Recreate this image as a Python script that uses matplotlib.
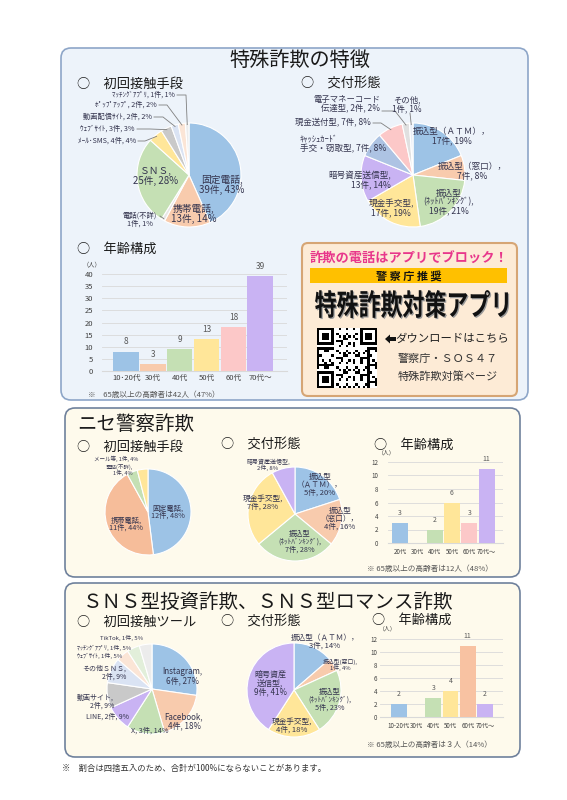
import numpy as np
import matplotlib.pyplot as plt
from matplotlib.patches import FancyBboxPatch, Rectangle, PathPatch, Polygon
from matplotlib.textpath import TextPath
from matplotlib.font_manager import FontProperties
from matplotlib.transforms import Affine2D

plt.rcParams['font.family'] = ['Noto Sans CJK JP', 'DejaVu Sans']

# ---- data: 特殊詐欺の特徴 ----
sp_contact_names = ["固定電話,\n", "携帯電話,\n", "電話(不詳)\n", "ＳＮＳ,\n", "ﾒｰﾙ･SMS, ",
                    "ｳｪﾌﾞｻｲﾄ, ", "動画配信ｻｲﾄ, ", "ﾎﾟｯﾌﾟｱｯﾌﾟ, ", "ﾏｯﾁﾝｸﾞｱﾌﾟﾘ, "]
sp_contact_counts = [39, 13, 1, 25, 4, 3, 2, 2, 1]
sp_contact_pcts = [43, 14, 1, 28, 4, 3, 2, 2, 1]

sp_pay_names = ["振込型（ＡＴＭ），\n", "振込型（窓口），\n", "振込型\n(ﾈｯﾄﾊﾞﾝｷﾝｸﾞ),\n", "現金手交型,\n",
                "暗号資産送信型,\n", "ｷｬｯｼｭｶｰﾄﾞ\n手交・窃取型, ", "現金送付型, ",
                "電子マネーコード\n伝達型, ", "その他,\n"]
sp_pay_counts = [17, 7, 19, 17, 13, 7, 7, 2, 1]
sp_pay_pcts = [19, 8, 21, 19, 14, 8, 8, 2, 1]

sp_age_cats = ["10･20代", "30代", "40代", "50代", "60代", "70代～"]
sp_age_counts = [8, 3, 9, 13, 18, 39]

# ---- data: ニセ警察詐欺 ----
fp_contact_names = ["固定電話,\n", "携帯電話,\n", "電話(不詳),\n", "メール等, "]
fp_contact_counts = [12, 11, 1, 1]
fp_contact_pcts = [48, 44, 4, 4]

fp_pay_names = ["振込型\n（ＡＴＭ），\n", "振込型\n（窓口），\n", "振込型\n(ﾈｯﾄﾊﾞﾝｷﾝｸﾞ),\n",
                "現金手交型,\n", "暗号資産送信型,\n"]
fp_pay_counts = [5, 4, 7, 7, 2]
fp_pay_pcts = [20, 16, 28, 28, 8]

fp_age_cats = ["20代", "30代", "40代", "50代", "60代", "70代～"]
fp_age_counts = [3, 0, 2, 6, 3, 11]

# ---- data: SNS型投資詐欺、SNS型ロマンス詐欺 ----
sns_tool_names = ["Instagram,\n", "Facebook,\n", "X, ", "LINE, ", "動画サイト,\n", "その他ＳＮＳ,\n",
                  "ｳｪﾌﾞｻｲﾄ, ", "ﾏｯﾁﾝｸﾞｱﾌﾟﾘ, ", "TikTok, "]
sns_tool_counts = [6, 4, 3, 2, 2, 2, 1, 1, 1]
sns_tool_pcts = [27, 18, 14, 9, 9, 9, 5, 5, 5]

sns_pay_names = ["振込型（ＡＴＭ），\n", "振込型(窓口),\n", "振込型\n(ﾈｯﾄﾊﾞﾝｷﾝｸﾞ),\n",
                 "現金手交型,\n", "暗号資産\n送信型,\n"]
sns_pay_counts = [3, 1, 5, 4, 9]
sns_pay_pcts = [14, 4, 23, 18, 41]

sns_age_cats = ["10-20代", "30代", "40代", "50代", "60代", "70代～"]
sns_age_counts = [2, 0, 3, 4, 11, 2]

# ---- colours ----
BLUE, SALMON, GREEN, YELLOW = '#9dc3e6', '#f8cbad', '#c5e0b4', '#ffe699'
PURPLE, PINK, GRAY, PALEBLUE = '#c9b3f3', '#fcc8c8', '#c9c9c9', '#dae3f3'
PEACH, PALEGRAY, STEEL = '#fbe5d6', '#ececec', '#adc3e3'
INK = '#34344e'

W, H = 567, 800
fig = plt.figure(figsize=(W / 100, H / 100), dpi=100)
bg = fig.add_axes([0, 0, 1, 1])
bg.set_zorder(-1)
ov = fig.add_axes([0, 0, 1, 1])
ov.set_zorder(5)
for a in (bg, ov):
    a.set_xlim(0, W)
    a.set_ylim(H, 0)
    a.axis('off')
ov.patch.set_alpha(0)


def px_axes(x0, y0, x1, y1):
    ax = fig.add_axes([x0 / W, 1 - y1 / H, (x1 - x0) / W, (y1 - y0) / H])
    ax.set_facecolor('none')
    return ax


def panel(x0, y0, x1, y1, fc, ec, lw=1.2):
    bg.add_patch(FancyBboxPatch((x0, y0), x1 - x0, y1 - y0,
                                boxstyle="round,pad=0,rounding_size=10",
                                fc=fc, ec=ec, lw=lw))


def txt(x, y, s, size, ha='center', color=INK, **kw):
    ov.text(x, y, s, fontsize=size, ha=ha, va='center', color=color, **kw)


def pie(cx, cy, r, counts, colors, names, pcts, pos, ls=1.0, leaders=None):
    ax = px_axes(cx - r, cy - r, cx + r, cy + r)
    wedges, _ = ax.pie(counts, colors=colors, startangle=90, counterclock=False,
                       wedgeprops=dict(edgecolor='white', linewidth=0.8))
    ax.set_xlim(-1, 1)
    ax.set_ylim(-1, 1)
    ax.set_aspect('auto')
    for name, n, p, (x, y, ha, size) in zip(names, counts, pcts, pos):
        txt(x, y, f"{name}{n}件, {p}%", size, ha=ha, linespacing=ls)
    for i, pts in (leaders or {}).items():
        w = wedges[i]
        a = np.deg2rad((w.theta1 + w.theta2) / 2)
        ex, ey = cx + r * 0.97 * np.cos(a), cy - r * 0.97 * np.sin(a)
        ov.plot([p[0] for p in pts] + [ex], [p[1] for p in pts] + [ey],
                color='#7f7f7f', lw=0.6)


def bars(box, cats, vals, colors, ymax, ystep, xlim, width, tsize, vsize, ypad, xpad):
    ax = px_axes(*box)
    x = np.arange(len(vals))
    ax.bar(x, vals, width=width, color=colors, zorder=3)
    for xi, v in zip(x, vals):
        if v:
            ax.annotate(str(v), (xi, v), xytext=(0, 7), textcoords='offset points',
                        ha='center', va='center', fontsize=vsize, color='#595959')
    ax.set_xlim(*xlim)
    ax.set_ylim(0, ymax)
    ax.set_yticks(np.arange(0, ymax + 1, ystep))
    ax.set_xticks(x, cats)
    ax.grid(axis='y', color='#d9d9d9', lw=0.6)
    ax.set_axisbelow(True)
    for s in ['top', 'right', 'left']:
        ax.spines[s].set_visible(False)
    ax.spines['bottom'].set_color('#d9d9d9')
    ax.tick_params(axis='y', length=0, labelsize=tsize, labelcolor='#404040', pad=ypad)
    ax.tick_params(axis='x', length=0, labelsize=tsize, labelcolor='#404040', pad=xpad)
    return ax


# ---- panels ----
panel(61, 48, 528, 400, '#edf3fa', '#8ea6c8')
panel(65, 408, 520, 577, '#fefaec', '#6f819c')
panel(65, 583, 520, 757, '#fefaec', '#6f819c')

# ---- panel 1 ----
txt(300, 61, "特殊詐欺の特徴", 14.5, color='#1a1a1a')
txt(77, 84, "○　初回接触手段", 9.5, ha='left', color='#1a1a1a')
txt(301, 84, "○　交付形態", 9.5, ha='left', color='#1a1a1a')
txt(77, 249, "○　年齢構成", 9.5, ha='left', color='#1a1a1a')

pie(189, 175, 52, sp_contact_counts,
    [BLUE, SALMON, '#e7e6e6', GREEN, YELLOW, GRAY, PALEBLUE, PEACH, PALEGRAY],
    sp_contact_names, sp_contact_pcts,
    [(222, 185, 'center', 7), (194, 214, 'center', 7), (140, 220, 'center', 5.3),
     (156, 176, 'center', 7), (136, 141, 'right', 5.2), (135, 129, 'right', 5.2),
     (152, 117, 'right', 5.2), (157, 105, 'right', 5.2), (175, 95, 'right', 5.0)],
    leaders={2: [(160, 216)], 4: [(138, 141), (145, 141)], 5: [(137, 129), (150, 129)],
             6: [(154, 117), (163, 117)], 7: [(159, 105), (167, 105)],
             8: [(177, 95), (186, 95)]})

pie(413, 175, 52, sp_pay_counts,
    [BLUE, SALMON, GREEN, YELLOW, PURPLE, STEEL, PINK, '#e0e0e0', '#e9eef7'],
    sp_pay_names, sp_pay_pcts,
    [(452, 136, 'center', 6.2), (472, 171, 'center', 6.2), (449, 202, 'center', 6.2),
     (391, 208, 'center', 6.2), (391, 180, 'right', 6.2), (300, 144, 'left', 6.2),
     (371, 123, 'right', 6.0), (380, 104, 'right', 6.0), (407, 104, 'center', 6.0)],
    leaders={6: [(373, 123), (381, 123)], 7: [(382, 111), (395, 111)],
             8: [(410, 113)]})

bars((102, 274, 287, 371), sp_age_cats, sp_age_counts,
     [BLUE, SALMON, GREEN, YELLOW, PINK, PURPLE], 40, 5, (-0.9, 6.0), 0.95,
     5.5, 6, 6.5, 2)
txt(92, 264, "（人）", 4.5, color='#404040')
txt(88, 395, "※　65歳以上の高齢者は42人（47%）", 5.5, ha='left', color='#555555')

# ---- app advert ----
bg.add_patch(FancyBboxPatch((302, 243), 215, 153, boxstyle="round,pad=0,rounding_size=6",
                            fc='#fdebd6', ec='#d6a574', lw=1.5))
txt(409, 259, "詐欺の電話はアプリでブロック！", 9.5, color='#e8378b', fontweight='bold')
ov.add_patch(Rectangle((310, 268), 197, 15, fc='#ffc000', ec='none'))
txt(409, 276, "警 察 庁 推 奨", 8, color='#111111', fontweight='bold')
title_path = TextPath((0, 0), "特殊詐欺対策アプリ", size=1,
                      prop=FontProperties(family='Noto Sans CJK JP', weight='bold'))
ext = title_path.get_extents()
for dx, col in ((1.2, '#9a9a9a'), (0, '#111111')):
    tr = (Affine2D().translate(-ext.x0, -ext.y0)
          .scale(193 / ext.width, -28 / ext.height).translate(315 + dx, 318 + dx))
    ov.add_patch(PathPatch(tr.transform_path(title_path), fc=col, ec='none'))

n = 25
ii, jj = np.indices((n, n))
qr = ((ii * 3 + jj * 5 + (ii * jj) % 7) % 3 == 0).astype(int)
for r0, c0 in [(0, 0), (0, n - 7), (n - 7, 0)]:
    qr[max(r0 - 1, 0):r0 + 8, max(c0 - 1, 0):c0 + 8] = 0
    qr[r0:r0 + 7, c0:c0 + 7] = 1
    qr[r0 + 1:r0 + 6, c0 + 1:c0 + 6] = 0
    qr[r0 + 2:r0 + 5, c0 + 2:c0 + 5] = 1
qax = px_axes(317, 328, 377, 388)
qax.imshow(qr, cmap='gray_r', interpolation='nearest', aspect='auto')
qax.axis('off')
ov.add_patch(Polygon([(385, 339), (390, 334.5), (390, 337), (396, 337), (396, 341),
                      (390, 341), (390, 343.5)], closed=True, fc='#111111', ec='none'))
txt(452, 339, "ダウンロードはこちら", 8.2, color='#222222')
txt(448, 359, "警察庁・ＳＯＳ４７", 8.0, color='#333333')
txt(448, 377, "特殊詐欺対策ページ", 8.0, color='#333333')

# ---- panel 2 ----
txt(77, 425, "ニセ警察詐欺", 14, ha='left', color='#1a1a1a')
txt(77, 447, "○　初回接触手段", 9.5, ha='left', color='#1a1a1a')
txt(221, 445, "○　交付形態", 9.5, ha='left', color='#1a1a1a')
txt(374, 445, "○　年齢構成", 9.5, ha='left', color='#1a1a1a')

pie(148, 512, 43, fp_contact_counts, [BLUE, '#f6bd9a', GREEN, YELLOW],
    fp_contact_names, fp_contact_pcts,
    [(168, 512, 'center', 5.2), (126, 524, 'center', 5.2), (133, 470, 'right', 4.0),
     (116, 459, 'center', 4.0)], ls=0.9)

pie(295, 514, 47, fp_pay_counts, [BLUE, SALMON, GREEN, YELLOW, PURPLE],
    fp_pay_names, fp_pay_pcts,
    [(320, 485, 'center', 5.5), (340, 519, 'center', 5.5), (300, 542, 'center', 5.2),
     (263, 503, 'center', 5.5), (268, 465, 'center', 4.3)])

bars((388, 462, 503, 543), fp_age_cats, fp_age_counts,
     [BLUE, SALMON, GREEN, YELLOW, PINK, PURPLE], 12, 2, (-0.7, 5.95), 0.92,
     4.5, 5, 7, 3.5)
txt(387, 453, "（人）", 4.2, color='#404040')
txt(367, 569, "※ 65歳以上の高齢者は12人（48%）", 5.5, ha='left', color='#555555')

# ---- panel 3 ----
txt(83, 602, "ＳＮＳ型投資詐欺、ＳＮＳ型ロマンス詐欺", 14, ha='left', color='#1a1a1a')
txt(77, 622, "○　初回接触ツール", 9.5, ha='left', color='#1a1a1a')
txt(221, 622, "○　交付形態", 9.5, ha='left', color='#1a1a1a')
txt(372, 620, "○　年齢構成", 9.5, ha='left', color='#1a1a1a')

pie(152, 689, 45, sns_tool_counts,
    [BLUE, SALMON, GREEN, PURPLE, GRAY, PALEBLUE, PEACH, '#e2efda', PALEGRAY],
    sns_tool_names, sns_tool_pcts,
    [(182, 676, 'center', 5.8), (184, 721, 'center', 5.8), (150, 731, 'center', 5.2),
     (107, 717, 'center', 5.0), (114, 702, 'right', 5.0), (126, 673, 'right', 5.0),
     (77, 656, 'left', 4.3), (77, 648, 'left', 4.3), (100, 638, 'left', 4.3)])

pie(294, 690, 47, sns_pay_counts, [BLUE, SALMON, GREEN, YELLOW, PURPLE],
    sns_pay_names, sns_pay_pcts,
    [(325, 642, 'center', 5.5), (340, 665, 'center', 4.2), (330, 700, 'center', 5.2),
     (292, 726, 'center', 5.5), (270, 683, 'center', 5.8)])

bars((380, 639, 503, 717), sns_age_cats, sns_age_counts,
     [BLUE, SALMON, GREEN, YELLOW, '#f8c2a2', PURPLE], 12, 2, (-1.1, 6.05), 0.92,
     4.5, 5, 2, 3.5)
txt(388, 629, "（人）", 4.2, color='#404040')
txt(367, 745, "※ 65歳以上の高齢者は３人（14%）", 5.5, ha='left', color='#555555')

txt(62, 768, "※　割合は四捨五入のため、合計が100%にならないことがあります。", 6, ha='left',
    color='#333333')

fig.savefig('out.png', dpi=100)
